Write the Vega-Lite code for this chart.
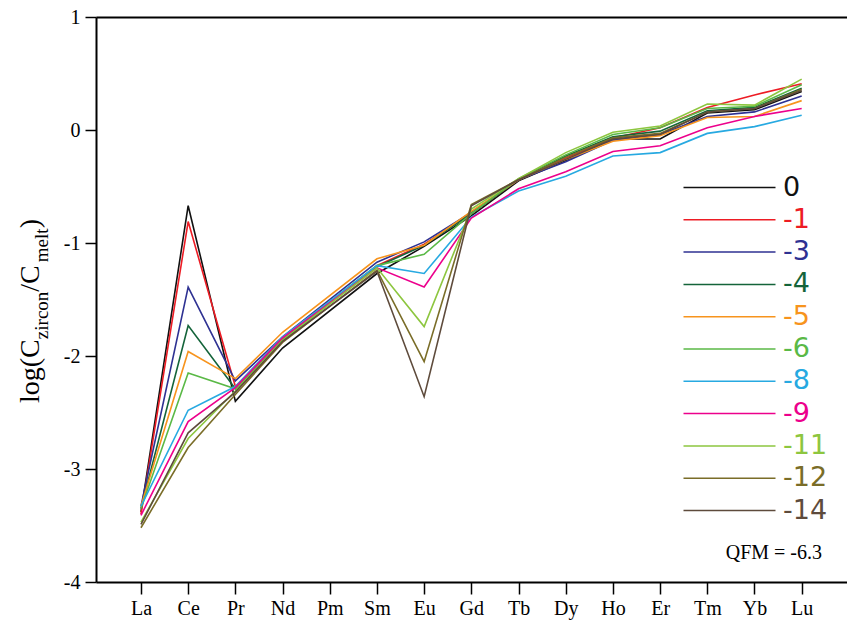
{
  "$schema": "https://vega.github.io/schema/vega-lite/v6.json",
  "width": 751,
  "height": 565,
  "autosize": "none",
  "padding": {"left": 96, "top": 17, "right": 0, "bottom": 46},
  "background": "white",
  "config": {"view": {"stroke": null}, "font": "Liberation Serif"},
  "datasets": {
    "ree": [
      {"el":"La","i":0,"s":"0","v":-3.38},{"el":"Ce","i":1,"s":"0","v":-0.67},{"el":"Pr","i":2,"s":"0","v":-2.40},{"el":"Nd","i":3,"s":"0","v":-1.93},{"el":"Sm","i":5,"s":"0","v":-1.27},{"el":"Eu","i":6,"s":"0","v":-1.03},{"el":"Gd","i":7,"s":"0","v":-0.76},{"el":"Tb","i":8,"s":"0","v":-0.45},{"el":"Dy","i":9,"s":"0","v":-0.27},{"el":"Ho","i":10,"s":"0","v":-0.08},{"el":"Er","i":11,"s":"0","v":-0.08},{"el":"Tm","i":12,"s":"0","v":0.15},{"el":"Yb","i":13,"s":"0","v":0.18},{"el":"Lu","i":14,"s":"0","v":0.34},
      {"el":"La","i":0,"s":"-1","v":-3.40},{"el":"Ce","i":1,"s":"-1","v":-0.81},{"el":"Pr","i":2,"s":"-1","v":-2.27},{"el":"Nd","i":3,"s":"-1","v":-1.85},{"el":"Sm","i":5,"s":"-1","v":-1.20},{"el":"Eu","i":6,"s":"-1","v":-1.01},{"el":"Gd","i":7,"s":"-1","v":-0.74},{"el":"Tb","i":8,"s":"-1","v":-0.44},{"el":"Dy","i":9,"s":"-1","v":-0.25},{"el":"Ho","i":10,"s":"-1","v":-0.07},{"el":"Er","i":11,"s":"-1","v":0.02},{"el":"Tm","i":12,"s":"-1","v":0.20},{"el":"Yb","i":13,"s":"-1","v":0.31},{"el":"Lu","i":14,"s":"-1","v":0.41},
      {"el":"La","i":0,"s":"-3","v":-3.33},{"el":"Ce","i":1,"s":"-3","v":-1.39},{"el":"Pr","i":2,"s":"-3","v":-2.22},{"el":"Nd","i":3,"s":"-3","v":-1.83},{"el":"Sm","i":5,"s":"-3","v":-1.17},{"el":"Eu","i":6,"s":"-3","v":-0.99},{"el":"Gd","i":7,"s":"-3","v":-0.73},{"el":"Tb","i":8,"s":"-3","v":-0.44},{"el":"Dy","i":9,"s":"-3","v":-0.28},{"el":"Ho","i":10,"s":"-3","v":-0.09},{"el":"Er","i":11,"s":"-3","v":-0.04},{"el":"Tm","i":12,"s":"-3","v":0.12},{"el":"Yb","i":13,"s":"-3","v":0.16},{"el":"Lu","i":14,"s":"-3","v":0.30},
      {"el":"La","i":0,"s":"-4","v":-3.35},{"el":"Ce","i":1,"s":"-4","v":-1.73},{"el":"Pr","i":2,"s":"-4","v":-2.29},{"el":"Nd","i":3,"s":"-4","v":-1.86},{"el":"Sm","i":5,"s":"-4","v":-1.21},{"el":"Eu","i":6,"s":"-4","v":-1.02},{"el":"Gd","i":7,"s":"-4","v":-0.74},{"el":"Tb","i":8,"s":"-4","v":-0.44},{"el":"Dy","i":9,"s":"-4","v":-0.23},{"el":"Ho","i":10,"s":"-4","v":-0.06},{"el":"Er","i":11,"s":"-4","v":-0.01},{"el":"Tm","i":12,"s":"-4","v":0.17},{"el":"Yb","i":13,"s":"-4","v":0.20},{"el":"Lu","i":14,"s":"-4","v":0.37},
      {"el":"La","i":0,"s":"-5","v":-3.33},{"el":"Ce","i":1,"s":"-5","v":-1.96},{"el":"Pr","i":2,"s":"-5","v":-2.20},{"el":"Nd","i":3,"s":"-5","v":-1.79},{"el":"Sm","i":5,"s":"-5","v":-1.14},{"el":"Eu","i":6,"s":"-5","v":-1.02},{"el":"Gd","i":7,"s":"-5","v":-0.72},{"el":"Tb","i":8,"s":"-5","v":-0.44},{"el":"Dy","i":9,"s":"-5","v":-0.26},{"el":"Ho","i":10,"s":"-5","v":-0.10},{"el":"Er","i":11,"s":"-5","v":-0.05},{"el":"Tm","i":12,"s":"-5","v":0.11},{"el":"Yb","i":13,"s":"-5","v":0.12},{"el":"Lu","i":14,"s":"-5","v":0.26},
      {"el":"La","i":0,"s":"-6","v":-3.35},{"el":"Ce","i":1,"s":"-6","v":-2.15},{"el":"Pr","i":2,"s":"-6","v":-2.29},{"el":"Nd","i":3,"s":"-6","v":-1.84},{"el":"Sm","i":5,"s":"-6","v":-1.20},{"el":"Eu","i":6,"s":"-6","v":-1.10},{"el":"Gd","i":7,"s":"-6","v":-0.74},{"el":"Tb","i":8,"s":"-6","v":-0.43},{"el":"Dy","i":9,"s":"-6","v":-0.22},{"el":"Ho","i":10,"s":"-6","v":-0.04},{"el":"Er","i":11,"s":"-6","v":0.02},{"el":"Tm","i":12,"s":"-6","v":0.19},{"el":"Yb","i":13,"s":"-6","v":0.21},{"el":"Lu","i":14,"s":"-6","v":0.40},
      {"el":"La","i":0,"s":"-8","v":-3.33},{"el":"Ce","i":1,"s":"-8","v":-2.48},{"el":"Pr","i":2,"s":"-8","v":-2.27},{"el":"Nd","i":3,"s":"-8","v":-1.83},{"el":"Sm","i":5,"s":"-8","v":-1.20},{"el":"Eu","i":6,"s":"-8","v":-1.27},{"el":"Gd","i":7,"s":"-8","v":-0.77},{"el":"Tb","i":8,"s":"-8","v":-0.54},{"el":"Dy","i":9,"s":"-8","v":-0.41},{"el":"Ho","i":10,"s":"-8","v":-0.23},{"el":"Er","i":11,"s":"-8","v":-0.20},{"el":"Tm","i":12,"s":"-8","v":-0.03},{"el":"Yb","i":13,"s":"-8","v":0.03},{"el":"Lu","i":14,"s":"-8","v":0.13},
      {"el":"La","i":0,"s":"-9","v":-3.41},{"el":"Ce","i":1,"s":"-9","v":-2.58},{"el":"Pr","i":2,"s":"-9","v":-2.28},{"el":"Nd","i":3,"s":"-9","v":-1.84},{"el":"Sm","i":5,"s":"-9","v":-1.22},{"el":"Eu","i":6,"s":"-9","v":-1.39},{"el":"Gd","i":7,"s":"-9","v":-0.78},{"el":"Tb","i":8,"s":"-9","v":-0.52},{"el":"Dy","i":9,"s":"-9","v":-0.37},{"el":"Ho","i":10,"s":"-9","v":-0.19},{"el":"Er","i":11,"s":"-9","v":-0.14},{"el":"Tm","i":12,"s":"-9","v":0.02},{"el":"Yb","i":13,"s":"-9","v":0.12},{"el":"Lu","i":14,"s":"-9","v":0.19},
      {"el":"La","i":0,"s":"-11","v":-3.47},{"el":"Ce","i":1,"s":"-11","v":-2.73},{"el":"Pr","i":2,"s":"-11","v":-2.31},{"el":"Nd","i":3,"s":"-11","v":-1.86},{"el":"Sm","i":5,"s":"-11","v":-1.22},{"el":"Eu","i":6,"s":"-11","v":-1.74},{"el":"Gd","i":7,"s":"-11","v":-0.70},{"el":"Tb","i":8,"s":"-11","v":-0.43},{"el":"Dy","i":9,"s":"-11","v":-0.20},{"el":"Ho","i":10,"s":"-11","v":-0.02},{"el":"Er","i":11,"s":"-11","v":0.035},{"el":"Tm","i":12,"s":"-11","v":0.23},{"el":"Yb","i":13,"s":"-11","v":0.22},{"el":"Lu","i":14,"s":"-11","v":0.45},
      {"el":"La","i":0,"s":"-12","v":-3.52},{"el":"Ce","i":1,"s":"-12","v":-2.81},{"el":"Pr","i":2,"s":"-12","v":-2.34},{"el":"Nd","i":3,"s":"-12","v":-1.88},{"el":"Sm","i":5,"s":"-12","v":-1.24},{"el":"Eu","i":6,"s":"-12","v":-2.05},{"el":"Gd","i":7,"s":"-12","v":-0.66},{"el":"Tb","i":8,"s":"-12","v":-0.44},{"el":"Dy","i":9,"s":"-12","v":-0.24},{"el":"Ho","i":10,"s":"-12","v":-0.07},{"el":"Er","i":11,"s":"-12","v":-0.03},{"el":"Tm","i":12,"s":"-12","v":0.16},{"el":"Yb","i":13,"s":"-12","v":0.19},{"el":"Lu","i":14,"s":"-12","v":0.36},
      {"el":"La","i":0,"s":"-14","v":-3.49},{"el":"Ce","i":1,"s":"-14","v":-2.68},{"el":"Pr","i":2,"s":"-14","v":-2.32},{"el":"Nd","i":3,"s":"-14","v":-1.87},{"el":"Sm","i":5,"s":"-14","v":-1.25},{"el":"Eu","i":6,"s":"-14","v":-2.36},{"el":"Gd","i":7,"s":"-14","v":-0.67},{"el":"Tb","i":8,"s":"-14","v":-0.44},{"el":"Dy","i":9,"s":"-14","v":-0.26},{"el":"Ho","i":10,"s":"-14","v":-0.08},{"el":"Er","i":11,"s":"-14","v":-0.04},{"el":"Tm","i":12,"s":"-14","v":0.16},{"el":"Yb","i":13,"s":"-14","v":0.19},{"el":"Lu","i":14,"s":"-14","v":0.35}
    ]
  },
  "layer": [
    {
      "data": {"name": "ree"},
      "mark": {"type": "line", "strokeWidth": 1.6, "clip": false},
      "encoding": {
        "x": {
          "field": "i", "type": "quantitative",
          "scale": {"domain": [-0.953, 14.96], "nice": false, "zero": false},
          "axis": {
            "orient": "bottom", "title": null, "grid": false,
            "values": [0,1,2,3,4,5,6,7,8,9,10,11,12,13,14],
            "labelExpr": "['La','Ce','Pr','Nd','Pm','Sm','Eu','Gd','Tb','Dy','Ho','Er','Tm','Yb','Lu'][datum.value]",
            "labelFont": "Liberation Serif", "labelFontSize": 20, "labelColor": "black",
            "labelPadding": 4, "labelFlush": false, "labelOverlap": false,
            "tickSize": 12, "tickWidth": 1.5, "tickColor": "black",
            "domainColor": "black", "domainWidth": 2
          }
        },
        "y": {
          "field": "v", "type": "quantitative",
          "scale": {"domain": [-4, 1], "nice": false, "zero": false},
          "axis": {
            "title": null, "grid": false, "values": [-4,-3,-2,-1,0,1],
            "labelExpr": "datum.value < 0 ? '-' + abs(datum.value) : '' + datum.value",
            "labelFont": "Liberation Serif", "labelFontSize": 20, "labelColor": "black",
            "labelPadding": 5, "labelFlush": false, "labelOverlap": false,
            "tickSize": 11, "tickWidth": 1.5, "tickColor": "black",
            "domainColor": "black", "domainWidth": 2
          }
        },
        "color": {
          "field": "s", "type": "nominal",
          "scale": {
            "domain": ["0","-1","-3","-4","-5","-6","-8","-9","-11","-12","-14"],
            "range": ["#111111","#ed1c24","#2e3192","#14643a","#f7941d","#5ab946","#27a9e1","#ec008c","#8dc63f","#7a6d28","#5e4b3c"]
          },
          "legend": {
            "orient": "none", "legendX": 578, "legendY": 157, "title": null, "padding": 0,
            "symbolType": "M-1,0H22", "symbolSize": 64, "symbolStrokeWidth": 1.5,
            "labelFont": "DejaVu Sans", "labelFontSize": 27, "labelOffset": 82,
            "labelBaseline": "middle", "rowPadding": 4.3,
            "encode": {"labels": {"update": {"fill": {"scale": "color", "field": "value"}}}}
          }
        },
        "order": {"field": "i", "type": "quantitative"}
      }
    },
    {
      "data": {"values": [{"note": "QFM = -6.3"}]},
      "mark": {"type": "text", "font": "Liberation Serif", "fontSize": 20, "align": "right", "baseline": "middle", "color": "black"},
      "encoding": {
        "x": {"datum": 14.43, "type": "quantitative", "axis": {"orient": "top", "title": null, "labels": false, "ticks": false, "grid": false, "domainColor": "black", "domainWidth": 2}},
        "y": {"datum": -3.743, "type": "quantitative"},
        "text": {"field": "note"}
      }
    },
    {
      "data": {"values": [{"t": "log(C"}]},
      "mark": {"type": "text", "font": "Liberation Serif", "fontSize": 28, "angle": 270, "align": "left", "baseline": "alphabetic", "color": "black", "clip": false},
      "encoding": {
        "x": {"datum": -2.161, "type": "quantitative", "axis": null},
        "y": {"datum": -2.416, "type": "quantitative"},
        "text": {"field": "t"}
      }
    },
    {
      "data": {"values": [{"t": "zircon"}]},
      "mark": {"type": "text", "font": "Liberation Serif", "fontSize": 19, "angle": 270, "align": "left", "baseline": "alphabetic", "color": "black", "clip": false},
      "encoding": {
        "x": {"datum": -1.97, "type": "quantitative", "axis": null},
        "y": {"datum": -1.851, "type": "quantitative"},
        "text": {"field": "t"}
      }
    },
    {
      "data": {"values": [{"t": "/C"}]},
      "mark": {"type": "text", "font": "Liberation Serif", "fontSize": 28, "angle": 270, "align": "left", "baseline": "alphabetic", "color": "black", "clip": false},
      "encoding": {
        "x": {"datum": -2.161, "type": "quantitative", "axis": null},
        "y": {"datum": -1.431, "type": "quantitative"},
        "text": {"field": "t"}
      }
    },
    {
      "data": {"values": [{"t": "melt"}]},
      "mark": {"type": "text", "font": "Liberation Serif", "fontSize": 19, "angle": 270, "align": "left", "baseline": "alphabetic", "color": "black", "clip": false},
      "encoding": {
        "x": {"datum": -1.97, "type": "quantitative", "axis": null},
        "y": {"datum": -1.17, "type": "quantitative"},
        "text": {"field": "t"}
      }
    },
    {
      "data": {"values": [{"t": ")"}]},
      "mark": {"type": "text", "font": "Liberation Serif", "fontSize": 28, "angle": 270, "align": "left", "baseline": "alphabetic", "color": "black", "clip": false},
      "encoding": {
        "x": {"datum": -2.161, "type": "quantitative", "axis": null},
        "y": {"datum": -0.87, "type": "quantitative"},
        "text": {"field": "t"}
      }
    }
  ],
  "resolve": {"axis": {"x": "independent"}}
}
